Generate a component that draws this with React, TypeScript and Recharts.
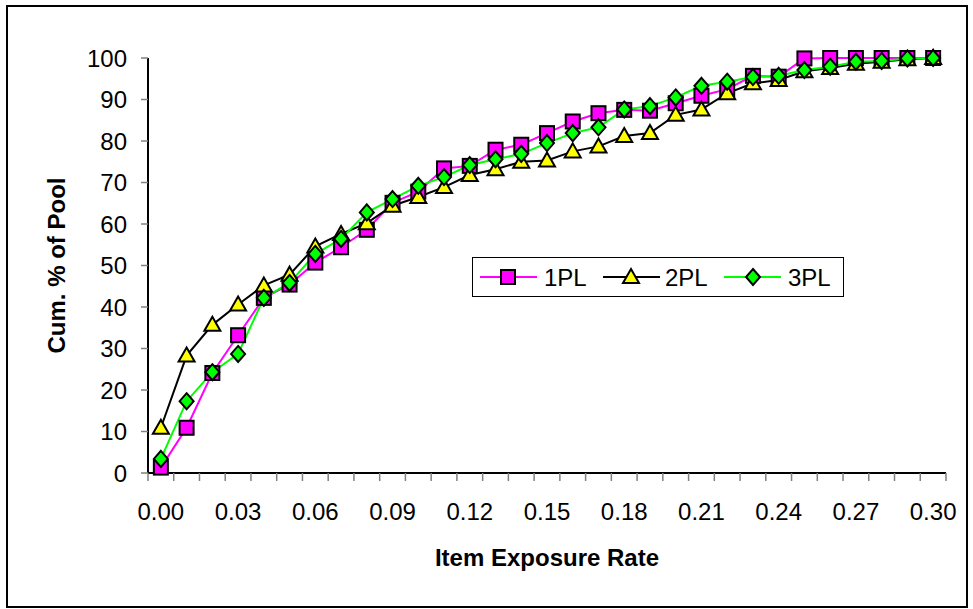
import React from 'react';
import { LineChart, Line, XAxis, YAxis, Legend } from 'recharts';

// Item exposure rate categories (0.00 .. 0.30 step 0.01)
const rates = [
  '0.00', '0.01', '0.02', '0.03', '0.04', '0.05', '0.06', '0.07', '0.08', '0.09',
  '0.10', '0.11', '0.12', '0.13', '0.14', '0.15', '0.16', '0.17', '0.18', '0.19',
  '0.20', '0.21', '0.22', '0.23', '0.24', '0.25', '0.26', '0.27', '0.28', '0.29', '0.30',
];

// Cumulative % of pool
const pl1 = [
  1.3, 10.9, 24.1, 33.2, 42.2, 45.4, 50.7, 54.4, 58.6, 65.1,
  67.8, 73.4, 74.0, 77.9, 79.1, 81.9, 84.7, 86.7, 87.5, 87.3,
  89.1, 90.9, 92.5, 95.7, 95.5, 99.9, 100, 100, 100, 100, 100,
];
const pl2 = [
  10.9, 28.3, 35.7, 40.6, 45.2, 47.8, 54.6, 57.6, 60.2, 64.4,
  66.5, 68.9, 71.8, 73.2, 75.0, 75.3, 77.5, 78.7, 81.2, 81.9,
  86.3, 87.6, 91.5, 93.9, 94.7, 96.8, 97.6, 98.6, 99.1, 99.7, 100,
];
const pl3 = [
  3.4, 17.3, 24.3, 28.7, 42.2, 45.8, 52.8, 56.4, 62.8, 66.0,
  69.2, 71.3, 74.2, 75.6, 76.9, 79.5, 81.9, 83.3, 87.6, 88.4,
  90.5, 93.3, 94.3, 95.4, 95.7, 97.1, 97.9, 99.1, 99.3, 99.9, 100,
];

const yTicks = [0, 10, 20, 30, 40, 50, 60, 70, 80, 90, 100];

const data = rates.map((rate, i) => ({ rate, pl1: pl1[i], pl2: pl2[i], pl3: pl3[i] }));

const FONT = '"Liberation Sans", Arial, sans-serif';
const X_TICK_SIZE = 8;
const X_TICK_MARGIN = 22;

const squareDot = (props: any) => {
  const { cx, cy, index } = props;
  return (
    <rect key={`sq-${index}`} x={cx - 7} y={cy - 7} width={14} height={14}
      fill="#FF00FF" stroke="#000" strokeWidth={2} />
  );
};

const triangleDot = (props: any) => {
  const { cx, cy, index } = props;
  return (
    <polygon key={`tr-${index}`} points={`${cx},${cy - 8} ${cx + 8},${cy + 6} ${cx - 8},${cy + 6}`}
      fill="#FFFF00" stroke="#000" strokeWidth={2} strokeLinejoin="miter" />
  );
};

const diamondDot = (props: any) => {
  const { cx, cy, index } = props;
  return (
    <polygon key={`di-${index}`} points={`${cx},${cy - 8} ${cx + 7},${cy} ${cx},${cy + 8} ${cx - 7},${cy}`}
      fill="#00FF00" stroke="#000" strokeWidth={2} />
  );
};

// Excel-style category ticks: marks sit between categories, labels every 3rd
const XTick = (props: any) => {
  const { x, y, payload, index, width } = props;
  const band = (width || 798) / rates.length;
  const axisY = y - X_TICK_SIZE - X_TICK_MARGIN;
  const left = x - band / 2;
  return (
    <g>
      <line x1={left} y1={axisY} x2={left} y2={axisY + X_TICK_SIZE} stroke="#808080" strokeWidth={1.5} />
      {index === rates.length - 1 && (
        <line x1={x + band / 2} y1={axisY} x2={x + band / 2} y2={axisY + X_TICK_SIZE} stroke="#808080" strokeWidth={1.5} />
      )}
      {index % 3 === 0 && (
        <text x={x} y={y} dy="0.71em" textAnchor="middle" fill="#000" fontSize={24} fontFamily={FONT}>
          {payload.value}
        </text>
      )}
    </g>
  );
};

const LegendBox = () => {
  const items = [
    { name: '1PL', color: '#FF00FF', dot: squareDot, x0: 8, mx: 36, tx: 72 },
    { name: '2PL', color: '#000000', dot: triangleDot, x0: 131, mx: 159, tx: 193 },
    { name: '3PL', color: '#00FF00', dot: diamondDot, x0: 252, mx: 281, tx: 316 },
  ];
  return (
    <svg width={372} height={40} style={{ display: 'block' }}>
      <rect x={0.5} y={0.5} width={371} height={39} fill="#fff" stroke="#000" strokeWidth={1} />
      {items.map((it) => (
        <g key={it.name}>
          <line x1={it.x0} y1={20} x2={it.x0 + 57} y2={20} stroke={it.color} strokeWidth={2} />
          {it.dot({ cx: it.mx, cy: 20, index: it.name })}
          <text x={it.tx} y={29} fontSize={24} fontFamily={FONT} fill="#000">{it.name}</text>
        </g>
      ))}
    </svg>
  );
};

const YTitle = (props: any) => {
  const { viewBox } = props;
  const cx = viewBox.x + viewBox.width / 2 - 18;
  const cy = viewBox.y + viewBox.height / 2;
  return (
    <text x={cx} y={cy} transform={`rotate(-90, ${cx}, ${cy})`} textAnchor="middle"
      dominantBaseline="central" fontSize={24} fontWeight="bold" fontFamily={FONT} fill="#000">
      Cum. % of Pool
    </text>
  );
};

const XTitle = (props: any) => {
  const { viewBox } = props;
  const cx = viewBox.x + viewBox.width / 2;
  const cy = viewBox.y + 84;
  return (
    <text x={cx} y={cy} textAnchor="middle" dominantBaseline="central"
      fontSize={24} fontWeight="bold" fontFamily={FONT} fill="#000">
      Item Exposure Rate
    </text>
  );
};

export default function App() {
  return (
    <div style={{ position: 'absolute', left: 0, top: 0, width: 973, height: 609, background: '#fff', fontFamily: FONT }}>
      <div style={{ position: 'absolute', left: 6, top: 5, width: 958, height: 599, border: '2px solid #000' }} />
      <LineChart width={973} height={609} data={data} margin={{ top: 58, right: 27, bottom: 0, left: 0 }}>
        <XAxis
          dataKey="rate"
          scale="band"
          interval={0}
          height={136}
          tickSize={X_TICK_SIZE}
          tickMargin={X_TICK_MARGIN}
          tickLine={false}
          axisLine={{ stroke: '#000', strokeWidth: 2 }}
          tick={<XTick />}
          label={{ content: <XTitle /> }}
        />
        <XAxis xAxisId="top" dataKey="rate" scale="band" orientation="top" height={0}
          tick={false} tickLine={false} axisLine={{ stroke: '#000', strokeWidth: 2 }} />
        <YAxis
          domain={[0, 100]}
          ticks={yTicks}
          width={148}
          tickSize={7}
          tickMargin={14}
          tickLine={{ stroke: '#808080', strokeWidth: 1.5 }}
          axisLine={{ stroke: '#000', strokeWidth: 2 }}
          tick={{ fill: '#000', fontSize: 24, fontFamily: FONT }}
          label={{ content: <YTitle /> }}
        />
        <YAxis yAxisId="right" orientation="right" width={0} domain={[0, 100]}
          tick={false} tickLine={false} axisLine={{ stroke: '#000', strokeWidth: 2 }} />
        <Legend
          layout="horizontal"
          verticalAlign="middle"
          align="center"
          content={<LegendBox />}
          wrapperStyle={{ position: 'absolute', left: 472, top: 257, width: 372, height: 40 }}
        />
        <Line dataKey="pl1" name="1PL" stroke="#FF00FF" strokeWidth={2} dot={squareDot}
          activeDot={false} isAnimationActive={false} />
        <Line dataKey="pl2" name="2PL" stroke="#000000" strokeWidth={2} dot={triangleDot}
          activeDot={false} isAnimationActive={false} />
        <Line dataKey="pl3" name="3PL" stroke="#00FF00" strokeWidth={2} dot={diamondDot}
          activeDot={false} isAnimationActive={false} />
      </LineChart>
    </div>
  );
}
